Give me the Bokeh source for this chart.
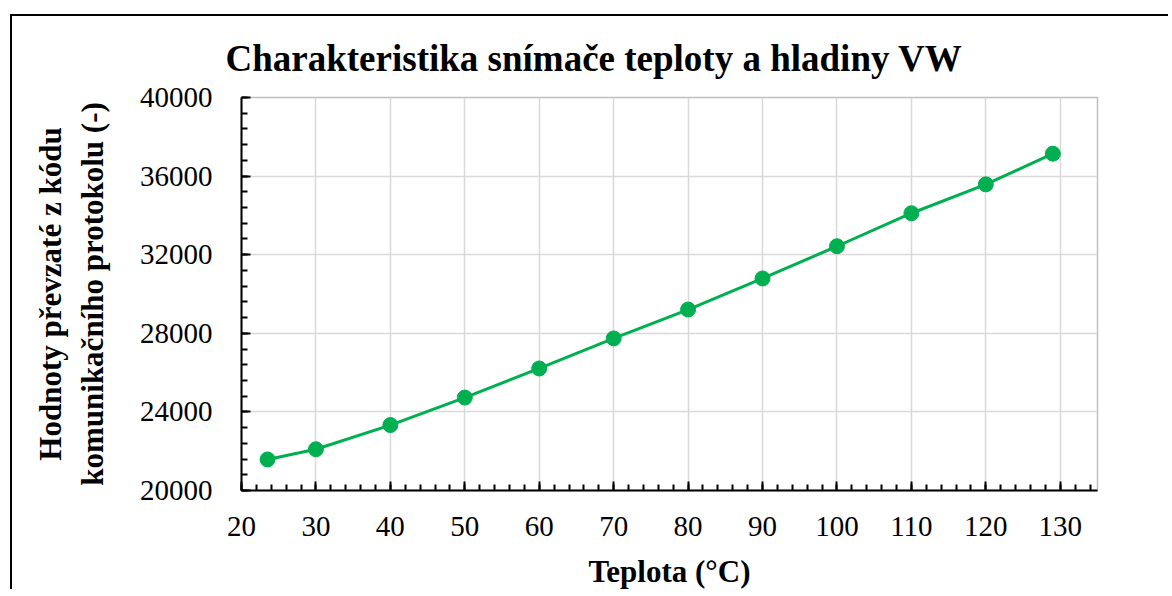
from bokeh.plotting import figure
from bokeh.models import SingleIntervalTicker, Range1d
from bokeh.embed import file_html
from bokeh.resources import INLINE

# Data
teplota = [23.5, 30, 40, 50, 60, 70, 80, 90, 100, 110, 120, 129]
hodnoty = [21580, 22100, 23330, 24730, 26210, 27740, 29210, 30790, 32430, 34110, 35580, 37140]

title_text = "Charakteristika snímače teploty a hladiny VW"
x_label = "Teplota (°C)"
y_label = "Hodnoty převzaté z kódu\nkomunikačního protokolu (-)"

GREEN = "#00B050"
FONT = "Liberation Serif"

p = figure(
    width=1158, height=575,
    output_backend="svg", toolbar_location=None,
    x_range=Range1d(20, 135), y_range=Range1d(20000, 40000),
    min_border_left=229, min_border_right=73, min_border_top=81, min_border_bottom=101,
    styles={"margin-left": "10px", "margin-top": "14px",
            "border-left": "2px solid black", "border-top": "2px solid black"},
)

p.title.text = title_text
p.title.text_font = FONT
p.title.text_font_style = "bold"
p.title.text_font_size = "37px"
p.title.align = "left"
p.title.offset = -16
p.title.standoff = 37
p.title.text_color = "black"

p.line(teplota, hodnoty, line_color=GREEN, line_width=3)
p.scatter(teplota, hodnoty, size=15, fill_color=GREEN, line_color=GREEN)

p.xaxis.ticker = SingleIntervalTicker(interval=10, num_minor_ticks=5)
p.yaxis.ticker = SingleIntervalTicker(interval=4000, num_minor_ticks=5)

for ax in (p.xaxis[0], p.yaxis[0]):
    ax.axis_line_color = "black"
    ax.axis_line_width = 2
    ax.major_tick_line_color = "black"
    ax.major_tick_line_width = 2
    ax.minor_tick_line_color = "black"
    ax.minor_tick_line_width = 2
    ax.major_tick_in = 9
    ax.major_tick_out = 0
    ax.minor_tick_in = 6
    ax.minor_tick_out = 0
    ax.major_label_text_font = FONT
    ax.major_label_text_font_size = "29px"
    ax.major_label_text_color = "black"
    ax.axis_label_text_font = FONT
    ax.axis_label_text_font_style = "bold"
    ax.axis_label_text_font_size = "31px"
    ax.axis_label_text_color = "black"

p.xaxis.axis_label = x_label
p.yaxis.axis_label = y_label
p.xaxis.major_label_standoff = 26
p.yaxis.major_label_standoff = 29
p.xaxis.axis_label_standoff = 15
p.yaxis.axis_label_standoff = 27

p.grid.grid_line_color = "#D9D9D9"
p.grid.grid_line_width = 1.5
p.outline_line_color = "#BFBFBF"
p.outline_line_width = 1.5

open("out.html", "w").write(file_html(p, INLINE))
